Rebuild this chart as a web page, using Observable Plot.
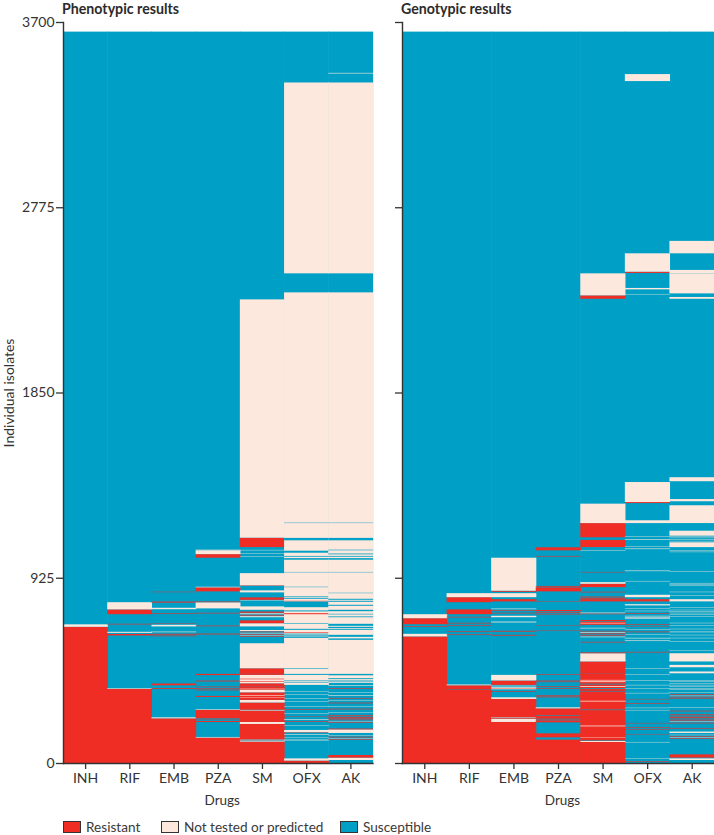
<!DOCTYPE html>
<html><head><meta charset="utf-8">
<script src="https://cdn.jsdelivr.net/npm/d3@7"></script>
<script src="https://cdn.jsdelivr.net/npm/@observablehq/plot@0.6"></script>
<style>
html,body{margin:0;padding:0;background:#fff;width:714px;height:835px;overflow:hidden;font-family:Lato,sans-serif;color:#333}
.abs{position:absolute}
.ttl{font-weight:700;font-size:14.2px;line-height:14px;color:#2b2b2b;white-space:nowrap}
.leg{font-size:13.6px;line-height:14px;color:#3a3a3a;white-space:nowrap}
.sw{width:16px;height:10px;border:1.3px solid #333}
svg{display:block;overflow:visible}
</style></head><body><div id="root"></div>
<script>
const drugs = ["INH","RIF","EMB","PZA","SM","OFX","AK"];
const statuses = ["Resistant","Not tested or predicted","Susceptible"];
const colours = ["#ef2d24","#fce8dd","#00a0c6"];
const yTicks = [0,925,1850,2775,3700];
const total = 3652;
const R="Resistant", N="Not tested or predicted", S="Susceptible";

// Phenotypic: [from, to, status], painted in order over a susceptible column
const phINH=[[0,680,R],[680,690,N],[690,693,N]];
const phRIF=[[0,370,R],[370,373,N],[637,644,R],[650,655,N],[692,695,R],[743,767,R],[767,803,N]];
const phEMB=[[0,223,R],[223,228,N],[370,374,R],[388,397,R],[633,636,R],[639,642,R],[643,645,R],[653,656,N],[682,690,N],[697,699,R],[745,748,R],[768,775,N],[800,803,R],[804,806,R],[853,855,R]];
const phPZA=[[0,127,R],[127,130,N],[205,210,R],[218,220,R],[223,265,R],[265,268,N],[330,335,R],[363,365,R],[368,370,R],[372,375,R],[380,382,R],[405,407,R],[412,414,R],[439,445,R],[640,642,R],[644,646,R],[683,686,R],[747,750,R],[772,802,N],[803,806,R],[857,877,R],[877,880,N],[1025,1043,R],[1043,1062,N],[1062,1065,N]];
const phSM=[[0,107,R],[107,112,N],[114,116,R],[116,118,N],[118,195,R],[195,205,N],[205,262,R],[262,266,N],[266,302,R],[302,315,N],[315,353,R],[327,329,N],[336,339,N],[353,365,N],[365,382,R],[368,371,N],[382,398,R],[398,440,N],[405,408,R],[418,421,R],[440,445,R],[445,473,R],[473,598,N],[630,633,R],[636,638,N],[641,644,R],[647,650,N],[653,656,R],[659,664,N],[682,698,N],[698,712,R],[728,733,N],[736,740,R],[743,747,N],[750,756,R],[765,782,N],[810,812,N],[815,827,R],[852,862,N],[884,887,R],[887,948,N],[1030,1032,N],[1045,1047,N],[1062,1064,N],[1078,1125,R],[1125,2315,N]];
const phOFX=[[0,12,R],[12,23,N],[110,112,N],[118,120,N],[128,130,N],[140,143,N],[152,154,R],[154,165,N],[185,187,N],[205,208,R],[216,219,N],[232,234,R],[245,247,N],[265,268,R],[280,282,N],[305,307,N],[320,322,N],[340,342,N],[355,357,N],[390,400,N],[400,2350,N],[402,405,S],[409,412,S],[440,445,S],[470,473,S],[625,632,S],[636,640,S],[642,646,S],[650,653,R],[665,670,S],[696,699,S],[743,748,R],[757,762,S],[778,807,S],[808,810,R],[820,825,S],[830,833,S],[878,880,S],[952,954,S],[1015,1023,S],[1030,1034,S],[1050,1060,S],[1112,1124,S],[1198,1200,S],[2445,3398,N]];
const phAK=[[15,27,N],[27,40,R],[115,118,R],[122,124,N],[128,131,R],[135,137,N],[150,168,N],[168,172,R],[200,203,R],[208,210,N],[214,217,R],[220,223,R],[226,230,R],[234,238,R],[252,254,N],[268,271,R],[282,284,N],[298,301,R],[310,312,N],[322,325,R],[335,338,N],[350,352,N],[370,373,R],[385,388,N],[400,2350,N],[404,407,S],[412,415,S],[420,424,S],[438,445,S],[615,622,S],[630,640,S],[665,669,S],[673,680,S],[685,695,S],[728,732,S],[742,745,S],[758,765,S],[785,790,S],[805,810,S],[815,820,S],[848,850,S],[952,954,S],[1015,1023,S],[1030,1034,S],[1042,1046,S],[1062,1065,S],[1112,1124,S],[1198,1200,S],[2445,3398,N],[3443,3446,N]];

// Genotypic
const geINH=[[0,632,R],[632,645,N],[681,684,R],[693,723,R],[723,743,N]];
const geRIF=[[0,388,R],[367,369,S],[388,392,N],[639,642,R],[654,657,R],[684,687,R],[697,700,R],[727,730,R],[743,767,R],[803,828,R],[828,848,N]];
const geEMB=[[0,205,R],[205,220,N],[220,224,R],[224,228,N],[228,320,R],[320,328,N],[355,358,R],[368,378,N],[372,374,R],[383,386,N],[390,410,R],[410,412,R],[412,440,N],[636,640,R],[656,660,R],[702,706,N],[728,735,N],[747,750,R],[760,763,R],[768,771,N],[807,818,R],[828,848,N],[855,860,R],[860,1025,N]];
const gePZA=[[0,118,R],[118,128,S],[128,148,R],[203,213,R],[216,219,R],[222,225,R],[223,273,R],[235,238,S],[273,278,N],[328,332,R],[335,338,R],[370,373,R],[380,383,R],[404,407,R],[412,414,R],[440,443,R],[659,661,R],[684,686,R],[742,745,R],[750,753,R],[758,764,R],[806,808,R],[857,877,R],[880,884,R],[1031,1034,R],[1062,1077,R]];
const geSM=[[0,448,R],[105,110,N],[112,115,S],[125,127,N],[183,185,N],[187,189,N],[264,267,S],[307,312,N],[312,357,R],[357,361,S],[361,415,R],[370,374,S],[380,384,N],[392,396,S],[404,408,N],[412,415,N],[448,507,R],[507,515,N],[510,548,N],[548,552,R],[602,605,R],[628,631,N],[636,639,R],[643,647,R],[650,653,N],[657,660,R],[672,675,N],[690,714,R],[697,700,N],[705,708,S],[743,746,R],[748,751,N],[807,818,R],[820,824,R],[827,831,R],[852,855,R],[878,895,R],[895,903,N],[952,954,R],[1031,1034,S],[1040,1043,S],[1048,1050,S],[1060,1062,N],[1078,1115,R],[1115,1127,S],[1127,1198,R],[1198,1295,N],[2318,2335,R],[2335,2445,N]];
const geOFX=[[5,8,R],[22,24,N],[103,105,N],[143,145,R],[167,170,R],[175,178,R],[198,200,R],[263,265,N],[274,276,N],[296,299,R],[318,320,R],[348,350,N],[370,372,N],[388,390,N],[410,412,N],[441,443,N],[472,474,N],[552,555,R],[609,612,N],[622,625,N],[640,642,N],[653,656,R],[666,668,N],[680,682,R],[689,692,R],[720,723,N],[726,729,N],[732,735,N],[744,747,R],[758,760,N],[770,772,N],[787,793,N],[807,818,R],[828,840,N],[907,909,N],[958,961,N],[1068,1071,N],[1080,1082,N],[1115,1118,N],[1130,1132,N],[1198,1212,N],[1298,1303,R],[1303,1403,N],[2340,2342,N],[2365,2372,N],[2447,2453,R],[2453,2545,N],[3405,3440,N]];
const geAK=[[0,5,S],[15,23,N],[27,43,R],[120,123,R],[126,128,N],[132,135,R],[139,141,N],[150,157,N],[172,175,R],[198,201,R],[205,207,N],[212,215,R],[218,221,R],[225,229,R],[233,236,R],[240,243,R],[258,261,R],[277,279,N],[322,325,R],[328,331,R],[334,336,N],[340,343,R],[352,354,N],[365,367,N],[372,374,N],[380,382,N],[388,390,N],[396,398,N],[405,407,N],[412,414,N],[448,457,N],[478,490,N],[507,515,N],[510,548,N],[560,562,N],[607,609,N],[623,625,N],[638,640,N],[653,656,N],[668,670,N],[684,686,N],[698,700,N],[732,734,N],[740,742,N],[748,750,N],[756,758,N],[763,765,N],[775,777,N],[807,818,N],[835,837,N],[853,855,N],[885,887,N],[892,894,N],[897,899,N],[955,957,N],[1053,1055,N],[1061,1063,N],[1078,1102,N],[1107,1109,N],[1115,1117,N],[1123,1125,N],[1131,1133,N],[1135,1160,N],[1198,1287,N],[1307,1318,N],[1407,1427,N],[2318,2327,N],[2345,2445,N],[2445,2462,N],[2545,2607,N]];

function rows(cols){
  const out=drugs.map(d=>({drug:d,from:0,to:total,status:S}));
  drugs.forEach((d,i)=>{
    for(const [a,b,s] of cols[i]) out.push({drug:d,from:a,to:b,status:s});
  });
  return out;
}
function panel(cols,opts){
  return Plot.plot({
    width:opts.width,height:808,marginTop:22,marginBottom:45,marginLeft:opts.left,marginRight:opts.right,
    style:{fontFamily:"Lato,sans-serif",fontSize:"13px",color:"#333",background:"transparent"},
    x:{type:"band",domain:drugs,padding:0,round:false},
    y:{domain:[0,3700]},
    color:{domain:statuses,range:colours},
    marks:[
      Plot.rectY(rows(cols),{x:"drug",y1:"from",y2:"to",fill:"status",insetRight:-0.6}),
      Plot.axisX({tickSize:6,tickPadding:4,fontSize:14,label:null,stroke:"#333",strokeWidth:1.3}),
      opts.labels
        ? Plot.axisY({ticks:yTicks,tickFormat:d=>String(d),tickSize:7,tickPadding:2,fontSize:14,label:"Individual isolates",labelAnchor:"center",labelArrow:"none",labelOffset:59,stroke:"#333",strokeWidth:1.3})
        : Plot.axisY({ticks:yTicks,tickSize:7,tickFormat:()=>"",label:null,stroke:"#333",strokeWidth:1.3}),
      Plot.text(["Drugs"],{frameAnchor:"bottom",lineAnchor:"middle",dx:4,dy:37,fontSize:13.5}),
      Plot.frame({anchor:"left",stroke:"#333",strokeWidth:1.4}),
      Plot.frame({anchor:"bottom",stroke:"#333",strokeWidth:1.4})
    ]
  });
}
const root=document.getElementById("root");
function place(el,x,y,cls){const d=document.createElement("div");d.className="abs "+(cls||"");d.style.left=x+"px";d.style.top=y+"px";if(el instanceof Node)d.appendChild(el);else d.textContent=el;root.appendChild(d);return d;}
place(panel([phINH,phRIF,phEMB,phPZA,phSM,phOFX,phAK],{width:385,left:63,right:12.5,labels:true}),0,0);
place(panel([geINH,geRIF,geEMB,gePZA,geSM,geOFX,geAK],{width:329,left:17,right:0,labels:false}),385,0);
place("Phenotypic results",62,1.5,"ttl");
place("Genotypic results",401,1.5,"ttl");
const legendX=[[63,86],[161,184],[340,363]];
statuses.forEach((s,i)=>{
  const sw=place("",legendX[i][0],821,"sw");sw.style.background=colours[i];
  place(s,legendX[i][1],820,"leg");
});
</script></body></html>
